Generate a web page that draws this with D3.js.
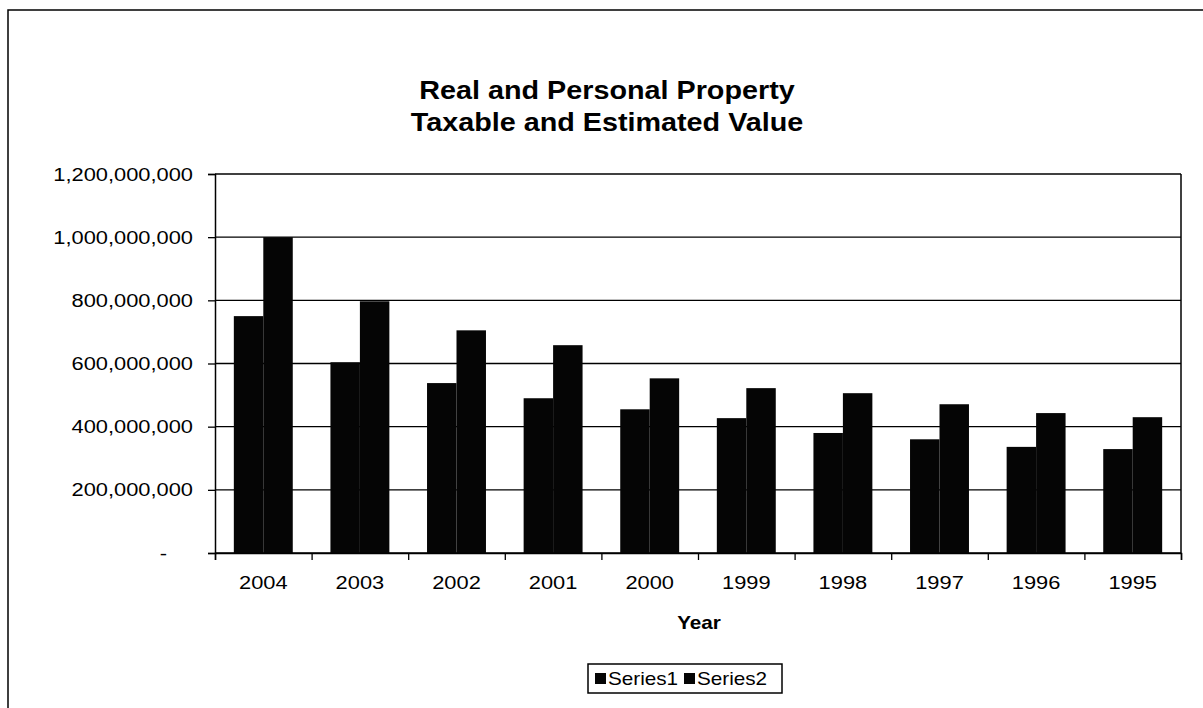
<!DOCTYPE html>
<html>
<head>
<meta charset="utf-8">
<script src="https://cdn.jsdelivr.net/npm/d3@7"></script>
<style>
  body { margin: 0; background: #fff; }
  svg { display: block; font-family: "Liberation Sans", Arial, sans-serif; }
</style>
</head>
<body>
<div id="chart"></div>
<script>
// values
const years = ["2004", "2003", "2002", "2001", "2000", "1999", "1998", "1997", "1996", "1995"]
const seriesNames = ["Series1", "Series2"]
const series1 = [750e6, 604e6, 538e6, 490e6, 455e6, 427e6, 380e6, 360e6, 336e6, 329e6]
const series2 = [1000e6, 797e6, 705e6, 658e6, 553e6, 522e6, 506e6, 471e6, 443e6, 430e6]
const yTicks = [0, 200e6, 400e6, 600e6, 800e6, 1000e6, 1200e6]
const titleLines = ["Real and Personal Property", "Taxable and Estimated Value"]

// the scan is a bit wider than tall, so text gets stretched horizontally
const SX = 1.15

const W = 1203, H = 708
const margin = {top: 174, right: 22, bottom: 155, left: 215},
  width = W - margin.left - margin.right,
  height = H - margin.top - margin.bottom

const svg = d3.select("#chart")
  .append("svg")
    .attr("width", W)
    .attr("height", H)

// outer frame of the sheet
svg.append("rect")
  .attr("x", 8).attr("y", 10)
  .attr("width", 1203).attr("height", 720)
  .attr("fill", "none")
  .attr("stroke", "#000")
  .attr("stroke-width", 1.5)

// title
svg.append("g")
  .selectAll("text")
  .data(titleLines)
  .join("text")
    .attr("transform", (d, i) => `translate(607,${99 + i * 32}) scale(${SX},1)`)
    .attr("text-anchor", "middle")
    .style("font-size", "25px")
    .style("font-weight", "bold")
    .text(d => d)

const g = svg.append("g")
  .attr("transform", `translate(${margin.left},${margin.top})`)

// scales
const x0 = d3.scaleBand()
  .domain(years)
  .range([0, width])
  .padding(0)

const x1 = d3.scaleBand()
  .domain(seriesNames)
  .range([x0.bandwidth() * 0.195, x0.bandwidth() * 0.805])
  .padding(0)

const y = d3.scaleLinear()
  .domain([0, 1200e6])
  .range([height, 0])

// gridlines
g.append("g")
  .selectAll("line")
  .data(yTicks)
  .join("line")
    .attr("x1", 0).attr("x2", width)
    .attr("y1", d => y(d)).attr("y2", d => y(d))
    .attr("stroke", "#000")
    .attr("stroke-width", 1.3)

// bars
const rows = years.map((yr, i) => ({year: yr, values: [series1[i], series2[i]]}))

g.append("g")
  .selectAll("g")
  .data(rows)
  .join("g")
    .attr("transform", d => `translate(${x0(d.year)},0)`)
  .selectAll("rect")
  .data(d => d.values.map((v, j) => ({name: seriesNames[j], value: v})))
  .join("rect")
    .attr("x", d => x1(d.name))
    .attr("y", d => y(d.value))
    .attr("width", x1.bandwidth())
    .attr("height", d => height - y(d.value))
    .attr("fill", "#050505")

// right border of plot
g.append("line")
  .attr("x1", width).attr("x2", width)
  .attr("y1", 0).attr("y2", height)
  .attr("stroke", "#000")
  .attr("stroke-width", 1.5)

// y axis
const yAxis = g.append("g")
  .call(d3.axisLeft(y)
    .tickValues(yTicks)
    .tickSize(7)
    .tickFormat(d => d === 0 ? "-" : d3.format(",")(d)))
yAxis.select(".domain").attr("stroke-width", 1.5)
yAxis.selectAll(".tick line").attr("stroke-width", 1.3)
yAxis.selectAll("text")
  .attr("x", 0)
  .attr("transform", d => `translate(${d === 0 ? -48 : -22},0) scale(${SX},1)`)
  .style("font-size", "19px")
  .attr("fill", "#000")

// x axis: labels centred, ticks between categories
const xAxis = g.append("g")
  .attr("transform", `translate(0,${height})`)
  .call(d3.axisBottom(x0).tickSize(0))
xAxis.select(".domain").remove()
xAxis.selectAll("text")
  .attr("y", 0)
  .attr("transform", `translate(0,23) scale(${SX},1)`)
  .style("font-size", "19px")
  .attr("fill", "#000")

const xTicks = g.append("g")
  .attr("transform", `translate(0,${height})`)
  .call(d3.axisBottom(d3.scaleLinear().domain([0, years.length]).range([0, width]))
    .ticks(years.length)
    .tickSizeOuter(0)
    .tickSize(7)
    .tickFormat(""))
xTicks.select(".domain").attr("stroke-width", 1.5)
xTicks.selectAll(".tick line").attr("stroke-width", 1.3)

// axis title
svg.append("text")
  .attr("transform", `translate(699,629) scale(${SX},1)`)
  .attr("text-anchor", "middle")
  .style("font-size", "18px")
  .style("font-weight", "bold")
  .text("Year")

// legend
const legend = svg.append("g")
  .attr("transform", "translate(588,664)")

legend.append("rect")
  .attr("width", 194).attr("height", 29)
  .attr("fill", "#fff")
  .attr("stroke", "#000")
  .attr("stroke-width", 1.5)

const item = legend.selectAll(".item")
  .data(seriesNames)
  .join("g")
    .attr("class", "item")
    .attr("transform", (d, i) => `translate(${7 + i * 89},0)`)

item.append("rect")
  .attr("y", 9)
  .attr("width", 11).attr("height", 11)
  .attr("fill", "#050505")

item.append("text")
  .attr("transform", `translate(13,21) scale(${SX},1)`)
  .style("font-size", "18px")
  .text(d => d)
</script>
</body>
</html>
